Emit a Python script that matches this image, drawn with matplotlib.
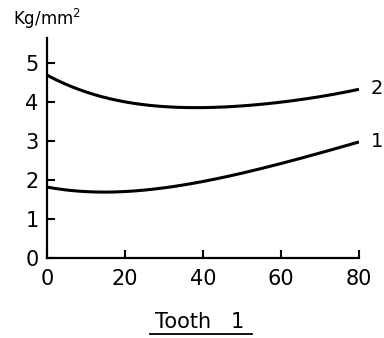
import matplotlib
matplotlib.use("Agg")
import matplotlib.pyplot as plt
import numpy as np

x_vals = [0, 10, 20, 30, 40, 50, 60, 70, 80]
curve2 = [4.70, 4.25, 4.02, 3.89, 3.86, 3.90, 4.00, 4.15, 4.33]
curve1 = [1.82, 1.71, 1.70, 1.80, 1.97, 2.18, 2.42, 2.70, 2.98]
curve_labels = ["2", "1"]
x_ticks = [0, 20, 40, 60, 80]
y_ticks = [0, 1, 2, 3, 4, 5]

plt.rcParams['font.family'] = ['DejaVu Sans']
fig = plt.figure(figsize=(3.84, 3.38), dpi=100)
ax = fig.add_axes([0.1224, 0.2367, 0.8126, 0.651])

xs = np.linspace(0, 80, 200)
for yv, lab in zip([curve2, curve1], curve_labels):
    c = np.polyfit(x_vals, yv, 4)
    ax.plot(xs, np.polyval(c, xs), color='black', lw=2.2, solid_capstyle='butt')
    ax.text(83, yv[-1] + 0.02, lab, fontsize=14, ha='left', va='center')

ax.set_xlim(0, 80)
ax.set_ylim(0, 5.65)
for s in ['top', 'right']:
    ax.spines[s].set_visible(False)
for s in ['left', 'bottom']:
    ax.spines[s].set_linewidth(1.6)
ax.set_xticks(x_ticks)
ax.set_yticks(y_ticks)
ax.tick_params(direction='in', length=6, width=1.5, labelsize=15)
ax.tick_params(axis='x', pad=8)
ax.tick_params(axis='y', pad=6)
ax.set_xticklabels([str(v) for v in x_ticks])
ax.set_yticklabels([str(v) for v in y_ticks])

fig.text(0.035, 0.945, "Kg/mm$^\\mathregular{2}$", fontsize=12, ha='left', va='center')
fig.text(0.52, 0.047, "Tooth   1", fontsize=15, ha='center', va='center')
fig.add_artist(plt.Line2D([0.39, 0.657], [0.012, 0.012], color='black', lw=1.3,
                          transform=fig.transFigure))

fig.savefig("out.png", dpi=100)
